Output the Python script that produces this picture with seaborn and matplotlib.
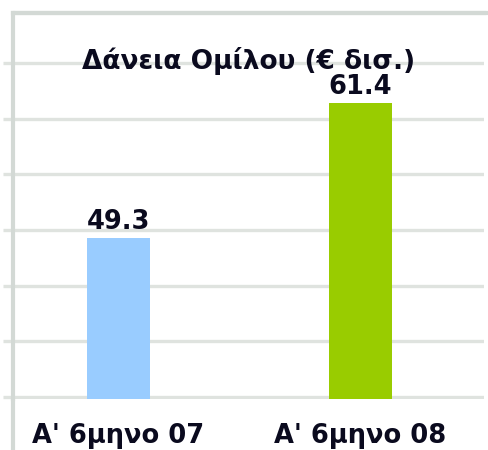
import matplotlib
matplotlib.use("Agg")
import matplotlib.pyplot as plt
import seaborn as sns
import pandas as pd
from matplotlib.lines import Line2D

categories = ["Α' 6μηνο 07", "Α' 6μηνο 08"]
values = [49.3, 61.4]
colors = ["#99CCFF", "#99CC00"]
title = "Δάνεια Ομίλου (€ δισ.)"
yticks = [35, 40, 45, 50, 55, 60, 65]

sns.set_theme(style="white")
plt.rcParams['font.family'] = ['DejaVu Sans']

W, H = 489, 450
fig = plt.figure(figsize=(W / 100, H / 100), dpi=100)
left_px, right_px, top_px, bottom_px = 13, 484, 13, 399
ax = fig.add_axes([left_px / W, 1 - bottom_px / H,
                   (right_px - left_px) / W, (bottom_px - top_px) / H])

df = pd.DataFrame({"cat": categories, "val": values})
sns.barplot(data=df, x="cat", y="val", hue="cat", palette=colors,
            width=0.26, legend=False, ax=ax, zorder=3, saturation=1,
            linewidth=0, edgecolor="none")

ax.set_ylim(34.82, 69.5)
ax.set_xlim(-0.436, 1.51)
ax.set_yticks(yticks)
ax.set_yticklabels([])
grid_c = "#DFE3DF"
ax.yaxis.grid(True, color=grid_c, linewidth=2.4, zorder=0)
ax.set_axisbelow(True)
ax.tick_params(axis='y', length=7, width=2.4, color=grid_c, left=True)
ax.tick_params(axis='x', length=0, pad=17, labelsize=18.5,
               labelcolor="#0a0a1e")
for lab in ax.get_xticklabels():
    lab.set_fontweight("bold")
ax.set_xlabel("")
ax.set_ylabel("")

spine_c = "#D3D9D5"
for s in ["right", "bottom"]:
    ax.spines[s].set_visible(False)
ax.spines["left"].set_color(spine_c)
ax.spines["left"].set_linewidth(3)
ax.spines["top"].set_color(spine_c)
ax.spines["top"].set_linewidth(3)
fig.add_artist(Line2D([left_px / W, left_px / W], [0, 1 - bottom_px / H],
                      transform=fig.transFigure, color=spine_c, linewidth=3))
fig.add_artist(Line2D([left_px / W, 1], [1 - top_px / H, 1 - top_px / H],
                      transform=fig.transFigure, color=spine_c, linewidth=3))

for cont in ax.containers:
    ax.bar_label(cont, fmt="%.1f", padding=2, fontsize=18.5,
                 fontweight="bold", color="#0a0a1e")

ax.text(0.5, 0.875, title, transform=ax.transAxes, ha="center", va="center",
        fontsize=19, fontweight="bold", color="#0a0a1e", zorder=5)

fig.savefig("out.png", dpi=100)
